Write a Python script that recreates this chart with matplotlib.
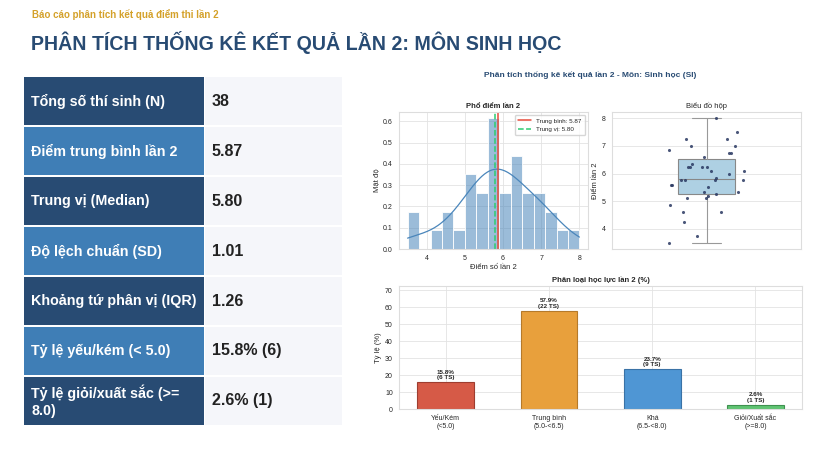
import numpy as np
import pandas as pd
import matplotlib
matplotlib.use('Agg')
import matplotlib.pyplot as plt
from matplotlib.patches import Rectangle
import seaborn as sns

# Diem lan 2 cua 38 thi sinh (doc tu bieu do hop)
scores = [8.0, 7.5, 7.25, 7.25, 7.0, 7.0, 6.85, 6.75, 6.75, 6.6,
          6.35, 6.25, 6.25, 6.25, 6.25, 6.1, 6.1, 6.0, 5.85, 5.75,
          5.75, 5.75, 5.75, 5.6, 5.6, 5.5, 5.35, 5.35, 5.25, 5.2,
          5.1, 5.1, 4.85, 4.6, 4.6, 4.25, 3.75, 3.5]

stat_labels = ['Tổng số thí sinh (N)', 'Điểm trung bình lần 2', 'Trung vị (Median)',
               'Độ lệch chuẩn (SD)', 'Khoảng tứ phân vị (IQR)', 'Tỷ lệ yếu/kém (< 5.0)',
               'Tỷ lệ giỏi/xuất sắc (>=\n8.0)']
stat_values = ['38', '5.87', '5.80', '1.01', '1.26', '15.8% (6)', '2.6% (1)']

cat_labels = ['Yếu/Kém\n(<5.0)', 'Trung bình\n(5.0-<6.5)', 'Khá\n(6.5-<8.0)', 'Giỏi/Xuất sắc\n(>=8.0)']
cat_pct = [15.8, 57.9, 23.7, 2.6]
cat_count = [6, 22, 9, 1]

NAVY = '#284b73'
LIGHT = '#3f7eb6'
bar_colors = ['#d65a47', '#e8a03c', '#4f96d4', '#5fc472']
bar_edges = ['#9e3d30', '#b57a2a', '#3a72a6', '#3f9150']

sns.set_style('whitegrid', {'grid.color': '#e3e3e3', 'axes.edgecolor': '#dddddd'})
plt.rcParams['font.family'] = ['Liberation Sans', 'DejaVu Sans']

fig = plt.figure(figsize=(8.4, 4.54), dpi=100)
fig.patch.set_facecolor('white')

# lop nen toa do pixel cho tieu de va bang
bg = fig.add_axes([0, 0, 1, 1])
bg.set_xlim(0, 840)
bg.set_ylim(454, 0)
bg.axis('off')

bg.text(32, 15, 'Báo cáo phân tích kết quả điểm thi lần 2', color='#d4a12a',
        fontsize=7, fontweight='bold', va='center')
bg.text(31, 42, 'PHÂN TÍCH THỐNG KÊ KẾT QUẢ LẦN 2: MÔN SINH HỌC', color=NAVY,
        fontsize=14.1, fontweight='bold', va='center')

row_h, pitch, top = 48, 50, 77
for i, (lab, val) in enumerate(zip(stat_labels, stat_values)):
    y0 = top + i * pitch
    c = NAVY if i % 2 == 0 else LIGHT
    bg.add_patch(Rectangle((24, y0), 180, row_h, facecolor=c, edgecolor='none'))
    bg.add_patch(Rectangle((205, y0), 137, row_h, facecolor='#f5f6fa', edgecolor='none'))
    bg.text(31, y0 + row_h / 2, lab, color='white', fontsize=10.3, fontweight='bold',
            va='center', linespacing=1.25)
    bg.text(212, y0 + row_h / 2, val, color='#222222', fontsize=11.5, fontweight='bold',
            va='center')

bg.text(590, 75, 'Phân tích thống kê kết quả lần 2 - Môn: Sinh học (SI)', color=NAVY,
        fontsize=6, fontweight='bold', ha='center', va='center')

s = pd.Series(scores)
mean, median = s.mean(), s.median()

tick_fs = 5
# Pho diem
ax1 = fig.add_axes([0.475, 0.4515, 0.225, 0.302])
edges = np.round(np.linspace(3.5, 8.0, 16), 2)
sns.histplot(s, bins=edges, stat='density', kde=True, ax=ax1,
             color='#4a86bb', alpha=0.55, edgecolor='white', linewidth=0.6,
             line_kws={'linewidth': 0.9})
ax1.axvline(mean, color='#e74c3c', linewidth=1.1, label='Trung bình: %.2f' % mean)
ax1.axvline(median, color='#2ecc71', linewidth=1.1, linestyle='--', label='Trung vị: %.2f' % median)
ax1.set_title('Phổ điểm lần 2', fontsize=5.5, fontweight='bold', pad=3)
ax1.set_xlabel('Điểm số lần 2', fontsize=5.5, labelpad=1)
ax1.set_ylabel('Mật độ', fontsize=5.5, labelpad=2)
ax1.tick_params(labelsize=tick_fs, pad=1)
ax1.legend(fontsize=4.5, loc='upper right', frameon=True, handlelength=2.2, borderpad=0.5)
ax1.grid(True, linewidth=0.6)

# Bieu do hop
ax2 = fig.add_axes([0.7286, 0.4515, 0.225, 0.302])
ax2.boxplot(scores, positions=[0], widths=0.3, patch_artist=True, showfliers=False,
            boxprops=dict(facecolor='#aed0e3', edgecolor='#888888', linewidth=0.8),
            medianprops=dict(color='#888888', linewidth=0.8),
            whiskerprops=dict(color='#999999', linewidth=0.8),
            capprops=dict(color='#999999', linewidth=0.8))
rng = np.random.default_rng(7)
jit = rng.uniform(-0.2, 0.2, len(scores))
ax2.scatter(jit, scores, s=5, color='#2b3a63', alpha=0.85, zorder=3, linewidths=0)
ax2.set_xlim(-0.5, 0.5)
ax2.set_ylim(3.27, 8.23)
ax2.set_xticks([])
ax2.set_title('Biểu đồ hộp', fontsize=5.5, pad=3)
ax2.set_ylabel('Điểm lần 2', fontsize=5.5, labelpad=2)
ax2.tick_params(labelsize=tick_fs, pad=1)
ax2.grid(True, axis='y', linewidth=0.6)
ax2.grid(False, axis='x')

# Phan loai hoc luc
ax3 = fig.add_axes([0.475, 0.0991, 0.48, 0.271])
x = np.arange(len(cat_labels))
ax3.bar(x, cat_pct, width=0.55, color=bar_colors, edgecolor=bar_edges, linewidth=0.8)
for xi, p, n in zip(x, cat_pct, cat_count):
    ax3.text(xi, p + 1, '%.1f%%\n(%d TS)' % (p, n), ha='center', va='bottom',
             fontsize=4.5, fontweight='bold', linespacing=1.1)
ax3.set_xticks(x)
ax3.set_xticklabels(cat_labels, fontsize=tick_fs, linespacing=1.1)
ax3.set_ylim(0, max(cat_pct) * 1.25)
ax3.set_title('Phân loại học lực lần 2 (%)', fontsize=5.5, fontweight='bold', pad=3)
ax3.set_ylabel('Tỷ lệ (%)', fontsize=5.5, labelpad=2)
ax3.tick_params(labelsize=tick_fs, pad=1)
ax3.grid(True, linewidth=0.6)

fig.savefig('out.png', dpi=100)
